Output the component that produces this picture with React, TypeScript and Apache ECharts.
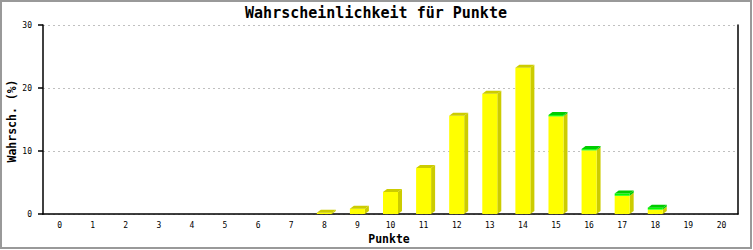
import React, { useEffect, useRef } from "react";
import * as echarts from "echarts";

const categories = ["0","1","2","3","4","5","6","7","8","9","10","11","12","13","14","15","16","17","18","19","20"];
const yellowValues = [0,0,0,0,0,0,0,0,0.2,0.85,3.5,7.3,15.6,19.1,23.2,15.5,10.1,2.9,0.7,0,0];
const greenValues = [0,0,0,0,0,0,0,0,0,0,0,0,0,0,0,0.2,0.2,0.35,0.3,0,0];
const yTicks = [0, 10, 20, 30];

const TITLE = "Wahrscheinlichkeit für Punkte";
const Y_NAME = "Wahrsch. (%)";
const X_NAME = "Punkte";

const FONT = "'DejaVu Sans Mono', 'Liberation Mono', monospace";

export default function App() {
  const ref = useRef<HTMLDivElement>(null);
  useEffect(() => {
    if (!ref.current) return;
    const chart = echarts.init(ref.current, null, { renderer: "svg" });
    const data = categories.map((c, i) => [i, yellowValues[i], greenValues[i]]);
    const option: any = {
      animation: false,
      backgroundColor: "#ffffff",
      grid: { left: 43, right: 15, top: 25, bottom: 36, containLabel: false },
      graphic: [
        {
          type: "rect",
          shape: { x: 1, y: 1, width: 750, height: 247 },
          style: { fill: "none", stroke: "#999999", lineWidth: 2 },
          silent: true,
          z: 100,
        },
        {
          type: "text",
          x: 376,
          y: 13,
          style: { text: TITLE, font: `bold 15px ${FONT}`, fill: "#000", align: "center", verticalAlign: "middle" },
        },
        {
          type: "text",
          x: 12,
          y: 121,
          rotation: Math.PI / 2,
          style: { text: Y_NAME, font: `bold 11.5px ${FONT}`, fill: "#000", align: "center", verticalAlign: "middle" },
        },
        {
          type: "text",
          x: 389,
          y: 239,
          style: { text: X_NAME, font: `bold 11.5px ${FONT}`, fill: "#000", align: "center", verticalAlign: "middle" },
        },
      ],
      xAxis: {
        type: "category",
        data: categories,
        boundaryGap: true,
        axisLine: { show: true, lineStyle: { color: "#000", width: 1.5 } },
        axisTick: { show: false },
        axisLabel: { fontSize: 8, fontFamily: FONT, color: "#000", margin: 7, interval: 0 },
        splitLine: { show: false },
      },
      yAxis: [
        {
          type: "value",
          min: yTicks[0],
          max: yTicks[yTicks.length - 1],
          interval: 10,
          axisLine: { show: true, lineStyle: { color: "#000", width: 1.5 } },
          axisTick: { show: true, length: 5, lineStyle: { color: "#000", width: 1.5 } },
          axisLabel: { fontSize: 8, fontFamily: FONT, color: "#000", margin: 11 },
          splitLine: { show: true, lineStyle: { color: "#c0c0c0", type: [2, 3], width: 1 } },
        },
        {
          type: "value",
          position: "right",
          min: yTicks[0],
          max: yTicks[yTicks.length - 1],
          interval: 10,
          axisLine: { show: true, lineStyle: { color: "#000", width: 1.5 } },
          axisTick: { show: false },
          axisLabel: { show: false },
          splitLine: { show: false },
        },
      ],
      series: [
        {
          type: "custom",
          data,
          encode: { x: 0, y: [1, 2] },
          renderItem: (params: any, api: any) => {
            const i = api.value(0);
            const yv = api.value(1);
            const gv = api.value(2);
            const total = yv + gv;
            if (total <= 0) return { type: "group", children: [] };
            const base = api.coord([i, 0]);
            const pY = api.coord([i, yv]);
            const pT = api.coord([i, total]);
            const w = 15;
            const dx = 4;
            const dy = 3;
            const x1 = base[0] - w / 2;
            const x2 = base[0] + w / 2;
            const yb = base[1];
            const yy = pY[1];
            const yt = pT[1];
            const children: any[] = [];
            // side face
            children.push({
              type: "polygon",
              shape: { points: [[x2, yy], [x2 + dx, yy - dy], [x2 + dx, yb - dy], [x2, yb]] },
              style: { fill: "#cccc00" },
            });
            if (gv > 0) {
              children.push({
                type: "polygon",
                shape: { points: [[x2, yt], [x2 + dx, yt - dy], [x2 + dx, yy - dy], [x2, yy]] },
                style: { fill: "#00cc00" },
              });
            }
            // front faces
            children.push({
              type: "rect",
              shape: { x: x1, y: yy, width: w, height: yb - yy },
              style: { fill: "#ffff00" },
            });
            if (gv > 0) {
              children.push({
                type: "rect",
                shape: { x: x1, y: yt, width: w, height: yy - yt },
                style: { fill: "#00ff00" },
              });
            }
            // top face
            children.push({
              type: "polygon",
              shape: { points: [[x1, yt], [x1 + dx, yt - dy], [x2 + dx, yt - dy], [x2, yt]] },
              style: { fill: gv > 0 ? "#00cc00" : "#cccc00" },
            });
            return { type: "group", children };
          },
        },
      ],
    };
    chart.setOption(option);
    return () => chart.dispose();
  }, []);
  return (
    <div
      ref={ref}
      style={{ position: "absolute", left: 0, top: 0, width: 753, height: 250 }}
    />
  );
}
